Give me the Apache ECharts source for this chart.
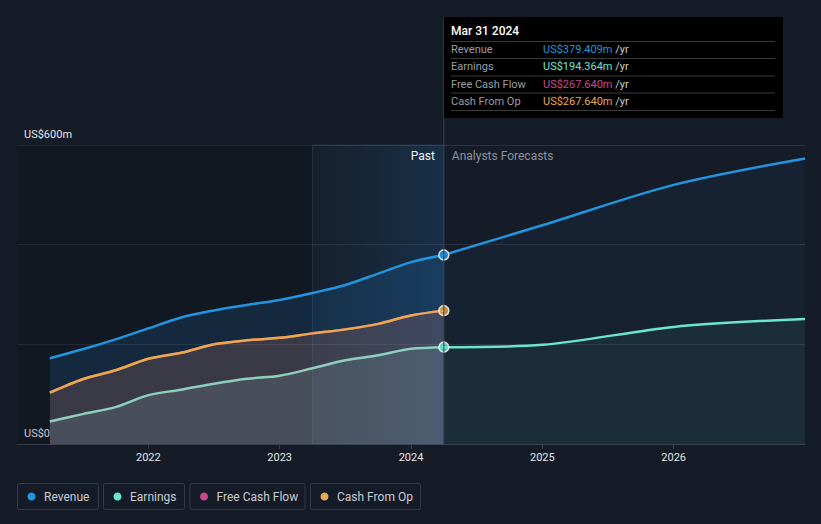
<!DOCTYPE html>
<html>
<head>
<meta charset="utf-8">
<script src="https://cdn.jsdelivr.net/npm/echarts@6/dist/echarts.min.js"></script>
<style>
html,body{margin:0;padding:0;background:#161c27;}
#c{width:821px;height:524px;}
</style>
</head>
<body>
<div id="c"></div>
<script>
// ---- data ----
const pastX = [2021.25, 2021.5, 2021.75, 2022.0, 2022.25, 2022.5, 2022.75, 2023.0, 2023.25, 2023.5, 2023.75, 2024.0, 2024.25];
const revenuePast = [172, 190, 210, 232, 254, 268, 279, 289, 303, 319, 342, 365, 379.409];
const earningsPast = [45, 60, 74, 98, 109, 121, 131, 137, 152, 168, 178, 191, 194.364];
const fcfPast = [103, 130, 148, 171, 183, 200, 208, 213, 222, 230, 241, 258, 267.64];
const cfoPast = [103, 130, 148, 171, 183, 200, 208, 213, 222, 230, 241, 258, 267.64];
const fcX = [2024.25, 2025.0, 2026.0, 2027.0];
const revenueFc = [379.409, 439, 520, 573];
const earningsFc = [194.364, 199, 235, 251];
const xTicks = [2022, 2023, 2024, 2025, 2026];
const yLabels = {0: 'US$0', 600: 'US$600m'};
const highlightStart = 2023.25;
const nowX = 2024.25;
const tipTitle = 'Mar 31 2024';
const tipRows = [
  ['Revenue', 'US$379.409m', '#2394df'],
  ['Earnings', 'US$194.364m', '#6ce5d0'],
  ['Free Cash Flow', 'US$267.640m', '#c94a8c'],
  ['Cash From Op', 'US$267.640m', '#e9a94f']
];
const legendItems = [
  ['Revenue', '#2394df'],
  ['Earnings', '#6ce5d0'],
  ['Free Cash Flow', '#c94a8c'],
  ['Cash From Op', '#e9a94f']
];

const C = {rev:'#2394df', earn:'#6ce5d0', fcf:'#c94a8c', cfo:'#e9a94f'};
const zip = (xs, ys) => xs.map((x, i) => [x, ys[i]]);
const FONT = 'Roboto, "Noto Sans", sans-serif';

const chart = echarts.init(document.getElementById('c'), null, {renderer: 'svg'});

function lineSeries(name, data, color, areaColor, z, smooth) {
  return {
    name, type: 'line', data, smooth: smooth, showSymbol: false, z,
    lineStyle: {color, width: 2.5},
    itemStyle: {color},
    areaStyle: areaColor ? {color: areaColor, origin: 'start'} : undefined,
    emphasis: {disabled: true}, silent: true
  };
}

const option = {
  backgroundColor: '#161c27',
  animation: false,
  grid: {left: 17, right: 16, top: 145, bottom: 80},
  xAxis: {
    type: 'value', min: 2021, max: 2027, interval: 1,
    axisLine: {lineStyle: {color: '#3a404b', width: 1}},
    axisTick: {show: true, length: 5, lineStyle: {color: '#3a404b'}, customValues: xTicks},
    axisLabel: {color: '#e2e4e8', fontSize: 11, fontFamily: FONT, margin: 8,
      customValues: xTicks, formatter: v => String(v)},
    splitLine: {show: false}
  },
  yAxis: {
    type: 'value', min: 0, max: 600, interval: 200,
    axisLine: {show: false}, axisTick: {show: false},
    splitLine: {lineStyle: {color: '#2b313c', width: 1}},
    axisLabel: {inside: true, color: '#e2e4e8', fontSize: 11, fontFamily: FONT,
      verticalAlign: 'bottom', margin: 7, padding: [0, 0, 5, 0],
      formatter: v => yLabels[v] || ''}
  },
  series: [
    {
      type: 'line', data: [], z: 0, silent: true,
      markArea: {
        silent: true,
        data: [
          [{xAxis: 2021, itemStyle: {color: 'rgba(0,0,0,0.14)'}}, {xAxis: highlightStart}],
          [{xAxis: highlightStart, itemStyle: {
            color: new echarts.graphic.LinearGradient(0, 0, 1, 0, [
              {offset: 0, color: 'rgba(33,150,243,0.03)'},
              {offset: 1, color: 'rgba(33,150,243,0.16)'}
            ]), borderColor: 'rgba(60,110,160,0.25)', borderWidth: 1}}, {xAxis: nowX}]
        ]
      }
    },
    lineSeries('Revenue', zip(pastX, revenuePast), C.rev, 'rgba(33,150,243,0.2)', 2, 0.3),
    lineSeries('Revenue', zip(fcX, revenueFc), C.rev, 'rgba(33,150,243,0.08)', 2, 0.3),
    lineSeries('Free Cash Flow', zip(pastX, fcfPast), C.fcf, 'rgba(201,74,140,0.15)', 3, 0.3),
    lineSeries('Cash From Op', zip(pastX, cfoPast), C.cfo, 'rgba(233,169,79,0.15)', 4, 0.3),
    lineSeries('Earnings', zip(pastX, earningsPast), '#8fcfbd', 'rgba(150,200,200,0.22)', 5, 0.3),
    lineSeries('Earnings', zip(fcX, earningsFc), C.earn, 'rgba(108,229,208,0.08)', 5, 0.3),
    {
      type: 'scatter', z: 10, silent: true, symbol: 'circle', symbolSize: 10,
      data: [
        {value: [nowX, revenuePast[revenuePast.length - 1]], itemStyle: {color: C.rev}},
        {value: [nowX, cfoPast[cfoPast.length - 1]], itemStyle: {color: C.cfo}},
        {value: [nowX, earningsPast[earningsPast.length - 1]], itemStyle: {color: C.earn}}
      ],
      itemStyle: {borderColor: '#ffffff', borderWidth: 1.5}
    }
  ]
};
chart.setOption(option);

// ---- overlays positioned via the library's scale ----
const px = chart.convertToPixel({xAxisIndex: 0}, nowX);
const topY = chart.convertToPixel({yAxisIndex: 0}, 600);
const botY = chart.convertToPixel({yAxisIndex: 0}, 0);
const g = [];
g.push({type: 'line', shape: {x1: px, y1: 17, x2: px, y2: botY}, style: {stroke: '#394150', lineWidth: 1}, z: 50});
g.push({type: 'text', x: px - 9, y: topY + 11, style: {text: 'Past', fill: '#f2f3f5', font: '12px ' + FONT, align: 'right', verticalAlign: 'middle'}, z: 50});
g.push({type: 'text', x: px + 8, y: topY + 11, style: {text: 'Analysts Forecasts', fill: '#8c919a', font: '12px ' + FONT, align: 'left', verticalAlign: 'middle'}, z: 50});

// tooltip box
const tx = 444, ty = 17, tw = 339, th = 101;
g.push({type: 'rect', shape: {x: tx, y: ty, width: tw, height: th}, style: {fill: '#000000'}, z: 60});
g.push({type: 'text', x: 451, y: 31, style: {text: tipTitle, fill: '#ffffff', font: '500 12px ' + FONT, verticalAlign: 'middle'}, z: 61});
const sepY = [41.5, 58.5, 76, 93, 110.5];
sepY.forEach(y => g.push({type: 'line', shape: {x1: 451, y1: y, x2: 775, y2: y}, style: {stroke: '#3a3a3a', lineWidth: 1}, z: 61}));
const rowY = [49.5, 66.5, 84, 101];
tipRows.forEach((r, i) => {
  g.push({type: 'text', x: 451, y: rowY[i], style: {text: r[0], fill: '#9a9ea6', font: '11px ' + FONT, verticalAlign: 'middle'}, z: 61});
  g.push({type: 'text', x: 543, y: rowY[i], style: {
    text: '{v|' + r[1] + '} {u|/yr}', verticalAlign: 'middle', font: '11px ' + FONT,
    rich: {v: {fill: r[2], font: '11px ' + FONT}, u: {fill: '#c8ccd2', font: '11px ' + FONT}}}, z: 61});
});

// legend boxes
const boxes = [[17, 81], [103, 81], [189.5, 115], [310, 110]];
legendItems.forEach((it, i) => {
  const [bx, bw] = boxes[i];
  g.push({type: 'rect', shape: {x: bx + 0.5, y: 483.5, width: bw, height: 26, r: 2}, style: {fill: 'none', stroke: '#353b47', lineWidth: 1}, z: 61});
  g.push({type: 'circle', shape: {cx: bx + 14.5, cy: 496.5, r: 4}, style: {fill: it[1]}, z: 61});
  g.push({type: 'text', x: bx + 27, y: 496.5, style: {text: it[0], fill: '#c8ccd2', font: '12px ' + FONT, verticalAlign: 'middle'}, z: 61});
});
chart.setOption({graphic: g});
</script>
</body>
</html>
